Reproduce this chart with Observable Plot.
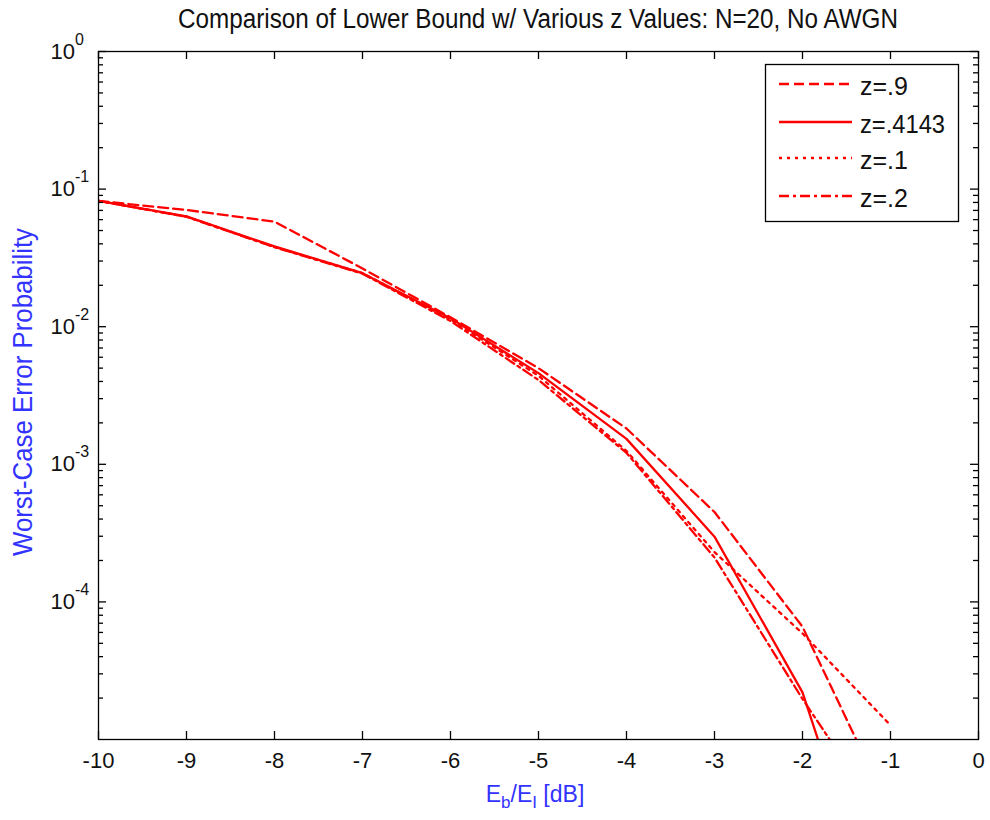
<!DOCTYPE html>
<html><head><meta charset="utf-8">
<script src="https://cdn.jsdelivr.net/npm/d3@7"></script>
<script src="https://cdn.jsdelivr.net/npm/@observablehq/plot@0.6"></script>
<style>
html,body{margin:0;padding:0;background:#fff}
#chart{width:990px;height:820px}
</style>
</head><body><div id="chart"></div>
<script>
// ---- data ----
const xValues = [-10, -9, -8, -7, -6, -5, -4, -3, -2, -1];
const zPoint9   = [0.082, 0.0705, 0.058, 0.0265, 0.0117, 0.0050, 0.00182, 0.00045, 0.000066, 0.000003];
const zPoint4143 = [0.082, 0.0633, 0.0383, 0.0245, 0.0115, 0.0046, 0.00153, 0.000298, 0.000022, 0.00000025];
const zPoint1   = [0.082, 0.0630, 0.0380, 0.0245, 0.0113, 0.0044, 0.00125, 0.00023, 0.000059, 0.0000127];
const zPoint2   = [0.082, 0.0630, 0.0378, 0.0243, 0.0110, 0.0041, 0.00121, 0.00021, 0.0000197, 0.0000022];
const seriesNames = ["z=.9", "z=.4143", "z=.1", "z=.2"];
const seriesValues = [zPoint9, zPoint4143, zPoint1, zPoint2];
const xTicks = [-10, -9, -8, -7, -6, -5, -4, -3, -2, -1, 0];
const yMajorTicks = [1, 0.1, 0.01, 0.001, 0.0001];
const yDecades = [1e-5, 1e-4, 1e-3, 1e-2, 1e-1];
const yMinorMultipliers = [2, 3, 4, 5, 6, 7, 8, 9];
const titleText = "Comparison of Lower Bound w/ Various z Values: N=20, No AWGN";
const yLabelText = "Worst-Case Error Probability";

// ---- styles ----
const dashes = ["10,5", null, "3,5", "10,4,3,4"];
const RED = "#ff0000";
const W = 990, H = 820, mL = 98, mR = 12, mT = 51, mB = 81;
const fw = W - mL - mR, fh = H - mT - mB;
const FONT = "'Liberation Sans', Arial, Helvetica, sans-serif";

const table = seriesNames.flatMap((name, i) =>
  xValues.map((x, j) => ({series: name, x, y: seriesValues[i][j]})));
const yMinorTicks = yDecades.flatMap(d => yMinorMultipliers.map(m => m * d));

const lineMarks = seriesNames.map((name, i) =>
  Plot.line(table.filter(d => d.series === name), {
    x: "x", y: "y", stroke: RED, strokeWidth: 2.3,
    strokeDasharray: dashes[i] || undefined, clip: true
  }));

const svg = Plot.plot({
  width: W, height: H,
  marginLeft: mL, marginRight: mR, marginTop: mT, marginBottom: mB,
  style: {fontFamily: FONT, background: "#fff", overflow: "visible"},
  x: {domain: [-10, 0], axis: null},
  y: {type: "log", domain: [1e-5, 1], axis: null},
  marks: [
    ...lineMarks,
    Plot.frame({stroke: "#000", strokeWidth: 1.3}),
    Plot.tickX(xTicks, {x: d => d, insetTop: fh - 8, stroke: "#000", strokeWidth: 1.3}),
    Plot.tickX(xTicks, {x: d => d, insetBottom: fh - 8, stroke: "#000", strokeWidth: 1.3}),
    Plot.tickY(yMajorTicks, {y: d => d, insetRight: fw - 8, stroke: "#000", strokeWidth: 1.3}),
    Plot.tickY(yMajorTicks, {y: d => d, insetLeft: fw - 8, stroke: "#000", strokeWidth: 1.3}),
    Plot.tickY(yMinorTicks, {y: d => d, insetRight: fw - 5, stroke: "#000", strokeWidth: 1.3}),
    Plot.tickY(yMinorTicks, {y: d => d, insetLeft: fw - 5, stroke: "#000", strokeWidth: 1.3}),
    Plot.text(xTicks, {x: d => d, frameAnchor: "bottom", dy: 13, lineAnchor: "top",
      text: d => String(d), fontSize: 22, fill: "#111"}),
    Plot.text(yMajorTicks, {y: d => d, frameAnchor: "left", dx: -48, textAnchor: "start",
      text: d => "10^" + Math.round(Math.log10(d)), fontSize: 22, fill: "#111"})
  ]
});

// superscripts for the y tick labels
d3.select(svg).selectAll("text").each(function() {
  const t = this.textContent;
  if (t.indexOf("^") >= 0) {
    const [base, ex] = t.split("^");
    const sel = d3.select(this);
    sel.text(base);
    sel.append("tspan").attr("dy", -14).attr("font-size", 16).text(ex);
  }
});

const s = d3.select(svg);
// title
s.append("text").attr("x", 538).attr("y", 28).attr("text-anchor", "middle")
  .attr("font-family", FONT).attr("font-size", 27).attr("fill", "#111")
  .attr("textLength", 720).attr("lengthAdjust", "spacingAndGlyphs").text(titleText);
// y label
s.append("text").attr("transform", "translate(32,392) rotate(-90)").attr("text-anchor", "middle")
  .attr("font-family", FONT).attr("font-size", 27).attr("fill", "#3333ff")
  .attr("textLength", 328).attr("lengthAdjust", "spacingAndGlyphs").text(yLabelText);
// x label
const xl = s.append("text").attr("x", 535).attr("y", 802).attr("text-anchor", "middle")
  .attr("font-family", FONT).attr("font-size", 23).attr("fill", "#3333ff");
xl.append("tspan").text("E");
xl.append("tspan").attr("font-size", 17).attr("dy", 6).text("b");
xl.append("tspan").attr("dy", -6).text("/E");
xl.append("tspan").attr("font-size", 17).attr("dy", 6).text("I");
xl.append("tspan").attr("dy", -6).text(" [dB]");

// legend
const lg = s.append("g");
lg.append("rect").attr("x", 765.5).attr("y", 64.5).attr("width", 193).attr("height", 157)
  .attr("fill", "#fff").attr("stroke", "#000").attr("stroke-width", 1.3);
const rowY = [84, 122, 158, 196];
seriesNames.forEach((name, i) => {
  lg.append("line").attr("x1", 779).attr("x2", 852).attr("y1", rowY[i]).attr("y2", rowY[i])
    .attr("stroke", RED).attr("stroke-width", 2.3)
    .attr("stroke-dasharray", dashes[i] || null);
  lg.append("text").attr("x", 860).attr("y", rowY[i] + 11).attr("text-anchor", "start")
    .attr("font-family", FONT).attr("font-size", 25).attr("fill", "#111")
    .attr("textLength", name.length > 5 ? 85 : null).attr("lengthAdjust", "spacingAndGlyphs")
    .text(name);
});

document.getElementById("chart").appendChild(svg);
</script>
</body></html>
